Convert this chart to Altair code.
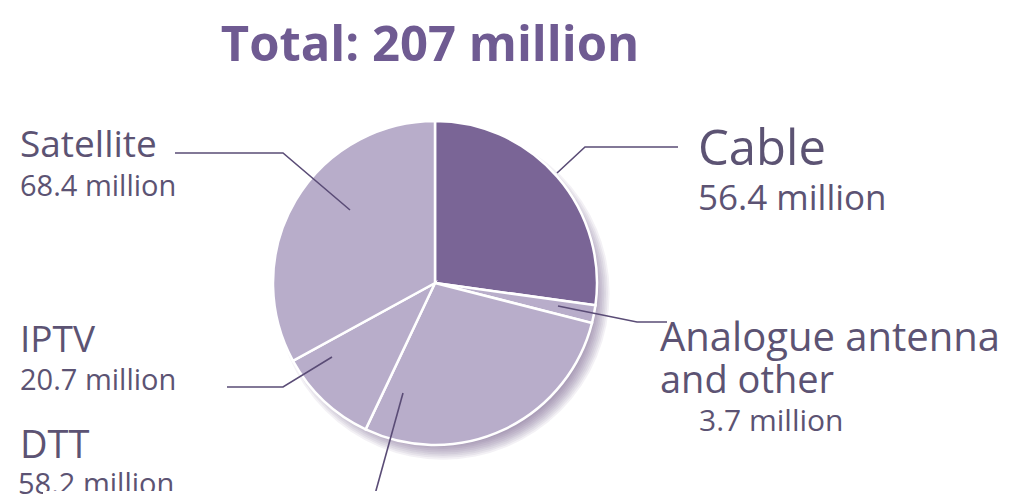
import math
import altair as alt
import pandas as pd

# ---- data ----
categories = ["Cable", "Analogue antenna and other", "DTT", "IPTV", "Satellite"]
values = [56.4, 3.7, 58.2, 20.7, 68.4]
value_labels = ["56.4 million", "3.7 million", "58.2 million", "20.7 million", "68.4 million"]
title_text = "Total: 207 million"

# ---- style / layout ----
slice_colors = ["#7a6596", "#b8adca", "#b8adca", "#b8adca", "#b8adca"]
text_color = "#5c5373"
title_color = "#6f5b92"
line_color = "#5a4c76"
W, H = 1022, 500
CX, CY, R = 435, 283, 162
FONT = "Open Sans"

pie_df = pd.DataFrame({"category": categories, "value": values, "order": list(range(len(categories)))})

# label texts (layout)
lab_text = ["Cable", value_labels[0],
            "Analogue antenna", "and other", value_labels[1],
            "Satellite", value_labels[4],
            "IPTV", value_labels[3],
            "DTT", value_labels[2]]
lab_x = [698, 698, 660, 660, 699, 20, 20, 20, 20, 20, 18]
lab_y = [165, 210, 351, 393, 431, 157, 196, 352, 390, 458, 494]
lab_size = [49, 35, 40, 38, 30, 37, 29, 37, 29, 38, 29]
labels_df = pd.DataFrame({"t": lab_text, "x": lab_x, "y": lab_y, "s": lab_size})

# leader lines (layout)
lead_id = ["c", "c", "c", "a", "a", "a", "s", "s", "s", "i", "i", "i", "d", "d"]
lead_ord = [0, 1, 2, 0, 1, 2, 0, 1, 2, 0, 1, 2, 0, 1]
lead_x = [678, 585, 557, 667, 637, 558, 175, 283, 350, 227, 283, 332, 403, 372]
lead_y = [147, 147, 173, 322, 322, 306, 153, 153, 210, 387, 387, 357, 393, 505]
lead_df = pd.DataFrame({"id": lead_id, "o": lead_ord, "x": lead_x, "y": lead_y})

xs = alt.Scale(domain=[0, W], nice=False, zero=False)
ys = alt.Scale(domain=[0, H], reverse=True, nice=False, zero=False)

one = pd.DataFrame({"a": [1]})

# soft shadow (stacked translucent discs)
shadow_layers = []
for r in range(R + 26, R - 1, -2):
    shadow_layers.append(
        alt.Chart(one).mark_circle(size=math.pi * r * r, color="#5a4878", opacity=0.075)
        .encode(x=alt.value(CX + 8), y=alt.value(CY + 10))
    )

pie = alt.Chart(pie_df).mark_arc(outerRadius=R, stroke="white", strokeWidth=2.5).encode(
    theta=alt.Theta("value:Q", stack=True),
    color=alt.Color("category:N", scale=alt.Scale(domain=categories, range=slice_colors), legend=None),
    order=alt.Order("order:Q"),
    x=alt.value(CX),
    y=alt.value(CY),
)

leads = alt.Chart(lead_df).mark_line(color=line_color, strokeWidth=1.6).encode(
    x=alt.X("x:Q", scale=xs, axis=None),
    y=alt.Y("y:Q", scale=ys, axis=None),
    detail="id:N",
    order="o:Q",
)

texts = alt.Chart(labels_df).mark_text(align="left", baseline="alphabetic", font=FONT, color=text_color).encode(
    x=alt.X("x:Q", scale=xs, axis=None),
    y=alt.Y("y:Q", scale=ys, axis=None),
    text="t:N",
    size=alt.Size("s:Q", scale=None, legend=None),
)

cover = alt.Chart(one).mark_rect(color="white").encode(
    x=alt.value(43), x2=alt.value(W), y=alt.value(491), y2=alt.value(H))

title = alt.Chart(pd.DataFrame({"t": [title_text]})).mark_text(
    font=FONT, fontWeight="bold", fontSize=49, color=title_color, align="center", baseline="alphabetic"
).encode(text="t:N", x=alt.value(430), y=alt.value(61))

chart = alt.layer(*shadow_layers, pie, leads, texts, cover, title).properties(
    width=W, height=H, padding=0,
    autosize=alt.AutoSizeParams(type="none"),
    background="white",
).configure_view(stroke=None)

chart.save("out.html", embed_options={"renderer": "svg", "actions": False})
